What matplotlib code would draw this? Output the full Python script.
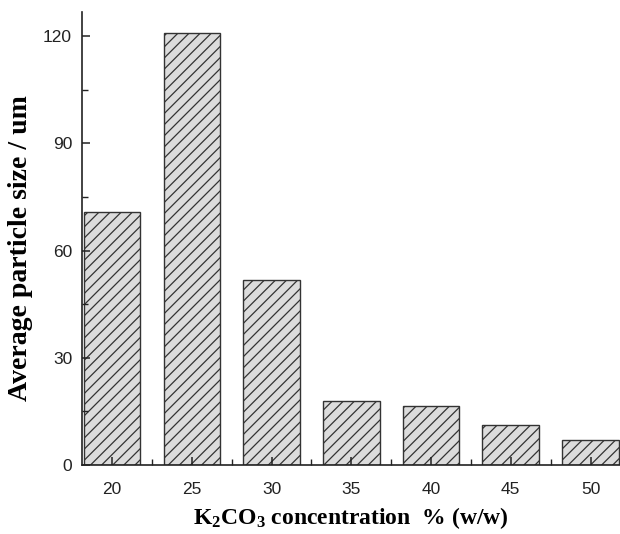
import numpy as np
import matplotlib
matplotlib.use('Agg')
import matplotlib.pyplot as plt

# dane
stezenie = [20, 25, 30, 35, 40, 45, 50]
rozmiar = [70.7, 120.8, 51.7, 18.0, 16.5, 11.2, 6.9]
y_ticki = [0, 30, 60, 90, 120]

plt.rcParams['hatch.linewidth'] = 0.9
plt.rcParams['hatch.color'] = '#333333'
plt.rcParams['mathtext.fontset'] = 'custom'
plt.rcParams['mathtext.rm'] = 'Liberation Serif:bold'
plt.rcParams['mathtext.it'] = 'Liberation Serif:bold'

fig = plt.figure(figsize=(6.2, 5.34), dpi=100)
ax = fig.add_axes([0.132, 0.129, 0.868, 0.8485])

ax.bar(stezenie, rozmiar, width=3.55, color='#dcdcdc', edgecolor='#333333',
       linewidth=1.0, hatch='///')

ax.set_xlim(18.1, 51.85)
ax.set_ylim(0, 126.7)
ax.set_xticks(stezenie)
ax.set_xticks([22.5, 27.5, 32.5, 37.5, 42.5, 47.5], minor=True)
ax.set_yticks(y_ticki)
ax.set_yticks([15, 45, 75, 105], minor=True)

for s in ['top', 'right']:
    ax.spines[s].set_visible(False)
for s in ['left', 'bottom']:
    ax.spines[s].set_linewidth(1.2)
    ax.spines[s].set_color('#222222')

ax.tick_params(which='major', direction='in', length=6, width=1.1, colors='#222222',
               labelsize=12.5)
ax.tick_params(which='minor', direction='in', length=4, width=1.0, colors='#222222')
for lab in ax.get_xticklabels() + ax.get_yticklabels():
    lab.set_fontfamily('Liberation Sans')
ax.tick_params(axis='x', pad=12)
ax.tick_params(axis='y', pad=7)

ax.set_ylabel('Average particle size / um', fontfamily='Liberation Serif',
              fontweight='bold', fontsize=20)
ax.yaxis.set_label_coords(-0.09, 0.48)
ax.set_xlabel(r'K$_2$CO$_3$ concentration  % (w/w)', fontfamily='Liberation Serif',
              fontweight='bold', fontsize=17, labelpad=6)

fig.savefig('out.png', dpi=100)
